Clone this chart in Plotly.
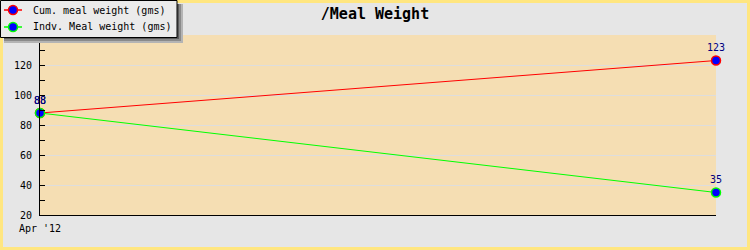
import plotly.graph_objects as go

dates = ["2012-04-01", "2012-04-30"]
cum_weight = [88, 123]
indv_weight = [88, 35]
series_names = ["Cum. meal weight (gms)", "Indv. Meal weight (gms)"]
series_colors = ["#ff0000", "#00ff00"]
x_tick_vals = ["2012-04-01"]
x_tick_text = ["Apr '12"]
y_tick_vals = [20, 40, 60, 80, 100, 120]

MONO = "DejaVu Sans Mono"
W, H = 750, 250
L, R, T, B = 40, 34, 35, 35
pw, ph = W - L - R, H - T - B

def px_x(p):
    return (p - L) / pw

def px_y(p):
    return 1 - (p - T) / ph

fig = go.Figure()
for name, color, vals in zip(series_names, series_colors, [cum_weight, indv_weight]):
    fig.add_trace(go.Scatter(
        x=dates, y=vals, name=name,
        mode="lines+markers+text", text=[str(v) for v in vals],
        textposition="top center", textfont=dict(family=MONO, size=10, color="#000080"),
        line=dict(color=color, width=1),
        marker=dict(color="#0000ff", size=9, line=dict(color=color, width=1.5)),
        cliponaxis=False, showlegend=False,
    ))

def prect(x0, y0, x1, y1, **kw):
    return dict(type="rect", xref="paper", yref="paper", layer="above",
                x0=px_x(x0), x1=px_x(x1), y0=px_y(y1), y1=px_y(y0), **kw)

shapes = [
    # outer yellow border
    prect(0, 0, W, H, fillcolor="rgba(0,0,0,0)", line=dict(color="#ffe680", width=6)),
    # legend shadow (soft)
    prect(4, 4, 183, 43, fillcolor="#b4b4b4", line=dict(width=0)),
    prect(4, 4, 181, 41, fillcolor="#8a8a8a", line=dict(width=0)),
    prect(4, 4, 179, 39, fillcolor="#5a5a5a", line=dict(width=0)),
    # legend box
    prect(0.5, 0.5, 177, 37.5, fillcolor="#ebebeb", line=dict(color="#000000", width=1)),
]
annotations = []
row_y = [10, 27]
for name, color, ry in zip(series_names, series_colors, row_y):
    shapes.append(dict(type="line", xref="paper", yref="paper", layer="above",
                       x0=px_x(4), x1=px_x(22), y0=px_y(ry), y1=px_y(ry),
                       line=dict(color=color, width=1.5)))
    shapes.append(dict(type="circle", xref="paper", yref="paper", layer="above",
                       x0=px_x(8.5), x1=px_x(17.5), y0=px_y(ry + 4.5), y1=px_y(ry - 4.5),
                       fillcolor="#0000ff", line=dict(color=color, width=1.5)))
    annotations.append(dict(text=name, xref="paper", yref="paper", x=px_x(31), y=px_y(ry),
                            xanchor="left", yanchor="middle", showarrow=False,
                            font=dict(family=MONO, size=10, color="#000000")))

fig.update_layout(
    width=W, height=H,
    margin=dict(l=L, r=R, t=T, b=B, autoexpand=False),
    paper_bgcolor="#e6e6e6",
    plot_bgcolor="#f5deb3",
    font=dict(family=MONO, size=10, color="#000000"),
    title=dict(text="<b>/Meal Weight</b>", x=0.5, xanchor="center", y=1 - 14 / H,
               yanchor="middle", font=dict(family=MONO, size=15, color="#000000")),
    showlegend=False,
    shapes=shapes,
    annotations=annotations,
    xaxis=dict(type="date", range=[dates[0], dates[-1]], tickvals=x_tick_vals, ticktext=x_tick_text,
               showgrid=False, showline=True, linecolor="#000000", linewidth=1,
               ticks="", zeroline=False, tickfont=dict(family=MONO, size=10), ticklabelstandoff=4),
    yaxis=dict(range=[20, 140], tickvals=y_tick_vals, showgrid=True, gridcolor="#dddddd", gridwidth=1,
               showline=True, linecolor="#000000", linewidth=1, ticks="inside", ticklen=5,
               tickcolor="#000000", zeroline=False, tickfont=dict(family=MONO, size=10),
               ticklabelstandoff=5,
               minor=dict(dtick=10, ticks="inside", ticklen=5, tickcolor="#000000", showgrid=False)),
)

fig.write_html("out.html")
